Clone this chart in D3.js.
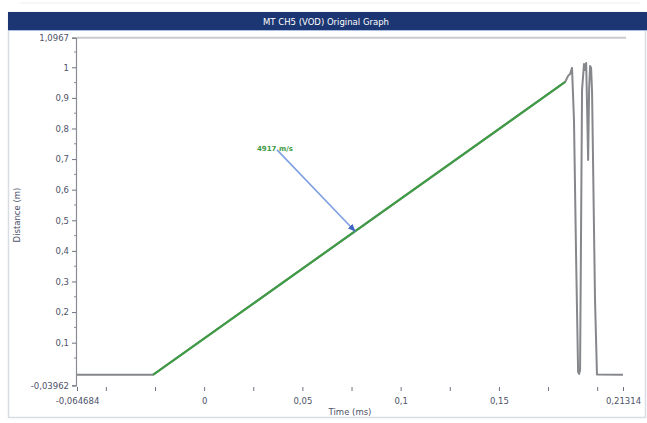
<!DOCTYPE html>
<html>
<head>
<meta charset="utf-8">
<script src="https://cdn.jsdelivr.net/npm/d3@7"></script>
<style>
  body { margin: 0; background: #fff; }
  svg { display: block; }
  text { font-family: "DejaVu Sans", Verdana, sans-serif; }
</style>
</head>
<body>
<svg id="chart" width="647" height="423"></svg>
<script>
// Measured trace: time (ms) vs probe distance (m)
const timeMs = [
  -0.064684, -0.0260, 0.1837, 0.1852, 0.1862, 0.1872, 0.1882, 0.1893, 0.1903,
  0.1908, 0.1913, 0.1923, 0.1933, 0.1938, 0.1944, 0.1949, 0.1954, 0.1959,
  0.1964, 0.1969, 0.1974, 0.1989, 0.1999, 0.21314
];
const distanceM = [
  -0.005, -0.005, 0.952, 0.972, 0.978, 0.998, 0.828, 0.370, 0.004,
  -0.002, 0.011, 0.926, 1.011, 0.991, 1.014, 0.860, 0.697, 0.930,
  1.004, 0.998, 0.920, 0.240, -0.004, -0.005
];

// Linear fit over the detonation ramp
const fitTime = [-0.0260, 0.1837];
const fitDistance = [-0.005, 0.952];
const vodLabel = "4917 m/s";
const labelAt = [0.0269, 0.728];      // label anchor (time, distance)
const arrowFrom = [0.0371, 0.730];
const arrowToTime = 0.0768;

// Axis ticks
const xDomain = [-0.064684, 0.21314];
const yDomain = [-0.03962, 1.0967];
const xTickValues = [-0.064684, -0.05, -0.025, 0, 0.025, 0.05, 0.075, 0.1, 0.125, 0.15, 0.175, 0.2, 0.21314];
const xTickLabels = [-0.064684, 0, 0.05, 0.1, 0.15, 0.21314];
const yTickValues = [-0.03962, 0.1, 0.2, 0.3, 0.4, 0.5, 0.6, 0.7, 0.8, 0.9, 1, 1.0967];
const yMinorTicks = [0.05, 0.15, 0.25, 0.35, 0.45, 0.55, 0.65, 0.75, 0.85, 0.95, 1.05];

const titleText = "MT CH5 (VOD) Original Graph";
const xTitle = "Time (ms)";
const yTitle = "Distance (m)";

const svg = d3.select("#chart");
const W = 647, H = 423;

const x = d3.scaleLinear().domain(xDomain).range([77, 623]);
const y = d3.scaleLinear().domain(yDomain).range([385.4, 37.7]);
const fmt = v => String(+v.toFixed(6)).replace(".", ",");

// Panel frame
svg.append("rect").attr("x", 8.5).attr("y", 12.5).attr("width", W - 10).attr("height", 405)
  .attr("fill", "#fff").attr("stroke", "#d9dde3").attr("stroke-width", 1.5);
svg.append("line").attr("x1", 20).attr("x2", 640).attr("y1", 3).attr("y2", 3)
  .attr("stroke", "#eceef1").attr("stroke-width", 1);

// Title bar
svg.append("rect").attr("x", 8).attr("y", 12).attr("width", W - 8).attr("height", 18)
  .attr("fill", "#1b3672");
svg.append("line").attr("x1", 8).attr("x2", W).attr("y1", 30.5).attr("y2", 30.5)
  .attr("stroke", "#a9bde0").attr("stroke-width", 1);
svg.append("text").attr("x", 326).attr("y", 24.5).attr("text-anchor", "middle")
  .attr("font-size", 8.5).attr("fill", "#fff").text(titleText);

// Top boundary line at the axis maximum
svg.append("line").attr("x1", x(xDomain[0])).attr("x2", 626)
  .attr("y1", y(yDomain[1])).attr("y2", y(yDomain[1]))
  .attr("stroke", "#c9cbcf").attr("stroke-width", 2);

// Y axis
const yAxis = svg.append("g").attr("transform", "translate(76,0)")
  .call(d3.axisLeft(y).tickValues(yTickValues).tickSize(4).tickPadding(3).tickFormat(fmt));
yAxis.select(".domain").attr("stroke", "#8a8d94").attr("stroke-width", 1.2);
yAxis.selectAll(".tick line").attr("stroke", "#6f7380");
yAxis.selectAll("text").attr("font-size", 8.5).attr("fill", "#4d5268");
svg.append("g").selectAll("line").data(yMinorTicks).join("line")
  .attr("x1", 74).attr("x2", 77).attr("y1", d => y(d)).attr("y2", d => y(d))
  .attr("stroke", "#8a8d94");

// X axis (ticks and labels only)
const xAxis = svg.append("g").attr("transform", "translate(0,387)")
  .call(d3.axisBottom(x).tickValues(xTickValues).tickSize(4).tickPadding(7)
    .tickFormat(d => xTickLabels.includes(d) ? fmt(d) : ""));
xAxis.select(".domain").remove();
xAxis.selectAll(".tick line").attr("stroke", "#6f7380");
xAxis.selectAll("text").attr("font-size", 8.5).attr("fill", "#4d5268");

// Axis titles
svg.append("text").attr("x", 350).attr("y", 415).attr("text-anchor", "middle")
  .attr("font-size", 8.5).attr("fill", "#4d5268").text(xTitle);
svg.append("text").attr("transform", "translate(20,215) rotate(-90)")
  .attr("text-anchor", "middle").attr("font-size", 8.5).attr("fill", "#4d5268").text(yTitle);

// Measured trace
const pts = timeMs.map((t, i) => [t, distanceM[i]]);
const line = d3.line().x(d => x(d[0])).y(d => y(d[1]));
svg.append("path").datum(pts).attr("d", line)
  .attr("fill", "none").attr("stroke", "#85878b").attr("stroke-width", 2)
  .attr("stroke-linejoin", "round");

// Fitted VOD line
const fitPts = fitTime.map((t, i) => [t, fitDistance[i]]);
svg.append("path").datum(fitPts).attr("d", line)
  .attr("fill", "none").attr("stroke", "#3f9c45").attr("stroke-width", 2.2);

// Annotation
const fitAt = d3.scaleLinear().domain(fitTime).range(fitDistance);
svg.append("defs").append("marker").attr("id", "arrowHead")
  .attr("viewBox", "0 0 10 10").attr("refX", 9).attr("refY", 5)
  .attr("markerWidth", 5).attr("markerHeight", 5).attr("orient", "auto")
  .append("path").attr("d", "M0,1 L10,5 L0,9 Z").attr("fill", "#3f66c4");
svg.append("line")
  .attr("x1", x(arrowFrom[0])).attr("y1", y(arrowFrom[1]))
  .attr("x2", x(arrowToTime)).attr("y2", y(fitAt(arrowToTime)))
  .attr("stroke", "#7e9fe2").attr("stroke-width", 1.6)
  .attr("marker-end", "url(#arrowHead)");
svg.append("text").attr("x", x(labelAt[0])).attr("y", y(labelAt[1]))
  .attr("font-size", 7).attr("font-weight", "bold").attr("fill", "#3f9c45").text(vodLabel);
</script>
</body>
</html>
